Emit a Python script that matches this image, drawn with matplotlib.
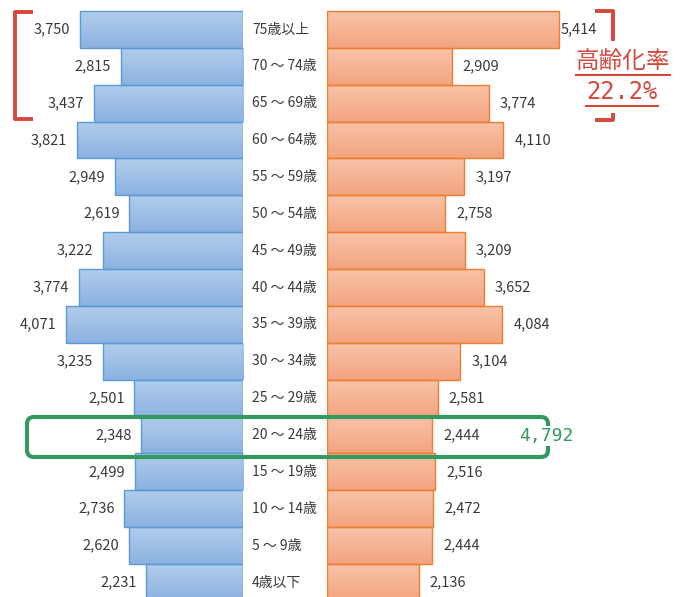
import numpy as np
import matplotlib
matplotlib.use("Agg")
import matplotlib.pyplot as plt
from matplotlib.colors import LinearSegmentedColormap
from matplotlib.patches import FancyBboxPatch
from matplotlib.transforms import blended_transform_factory

plt.rcParams["font.family"] = ["Noto Sans CJK JP", "DejaVu Sans"]

# --- data ---
age_groups = ["75歳以上", "70 ～ 74歳", "65 ～ 69歳", "60 ～ 64歳", "55 ～ 59歳",
              "50 ～ 54歳", "45 ～ 49歳", "40 ～ 44歳", "35 ～ 39歳", "30 ～ 34歳",
              "25 ～ 29歳", "20 ～ 24歳", "15 ～ 19歳", "10 ～ 14歳", "5 ～ 9歳",
              "4歳以下"]
male = [3750, 2815, 3437, 3821, 2949, 2619, 3222, 3774, 4071, 3235,
        2501, 2348, 2499, 2736, 2620, 2231]
female = [5414, 2909, 3774, 4110, 3197, 2758, 3209, 3652, 4084, 3104,
          2581, 2444, 2516, 2472, 2444, 2136]
aging_rate = "22.2%"
highlight = "20 ～ 24歳"

W, H = 687, 597
TEXT = "#3a3a3a"
RED = "#d4483c"
GREEN = "#33995f"

fig = plt.figure(figsize=(W / 100, H / 100), dpi=100)
axL = fig.add_axes([0, 0, 243 / W, 1])
axR = fig.add_axes([327 / W, 0, 360 / W, 1])
ylim = (15.394, -0.798)


def gradient_bars(ax, bars, c_top, c_bot):
    cmap = LinearSegmentedColormap.from_list("g", [c_top, c_bot])
    grad = np.linspace(0, 1, 64).reshape(-1, 1)
    for r in bars:
        x0, y0 = r.get_xy()
        im = ax.imshow(grad, cmap=cmap, aspect="auto", origin="upper",
                       extent=[x0, x0 + r.get_width(), y0 + r.get_height(), y0],
                       zorder=1, interpolation="bilinear")
        im.set_clip_path(r)


ys = np.arange(len(age_groups))
barsL = axL.barh(ys, male, height=1, facecolor="none", edgecolor="#5b9bd5",
                 linewidth=1.0, zorder=2)
barsR = axR.barh(ys, female, height=1, facecolor="none", edgecolor="#ed7d31",
                 linewidth=1.0, zorder=2)
gradient_bars(axL, barsL, "#b2cdeb", "#8cb2e1")
gradient_bars(axR, barsR, "#f8c3a9", "#f3a47f")

axL.set_xlim(243 / 0.0434, 0)
axR.set_xlim(0, 360 / 0.0429)
for ax in (axL, axR):
    ax.set_ylim(*ylim)
    ax.axis("off")

# value labels
for i, v in enumerate(male):
    axL.annotate(f"{v:,}", (v, i), xytext=(-7, 0), textcoords="offset points",
                 ha="right", va="center", fontsize=10.5, color=TEXT)
for i, v in enumerate(female):
    dx = 1 if i == 0 else 8
    axR.annotate(f"{v:,}", (v, i), xytext=(dx, 0), textcoords="offset points",
                 ha="left", va="center", fontsize=10.5, color=TEXT,
                 annotation_clip=False)

# age labels in the centre column
tr = blended_transform_factory(fig.transFigure, axL.transData)
for i, lab in enumerate(age_groups):
    axL.text(252 / W, i, lab, transform=tr, ha="left", va="center",
             fontsize=10, color=TEXT, clip_on=False)

# overlay in pixel coordinates for the annotations
axO = fig.add_axes([0, 0, 1, 1])
axO.set_xlim(0, W)
axO.set_ylim(H, 0)
axO.axis("off")

# red brackets around the 65+ rows
kw = dict(color=RED, lw=2.8, solid_joinstyle="round", solid_capstyle="butt")
axO.plot([33, 15, 15, 33], [12, 12, 119, 119], **kw)
axO.plot([595, 613, 613], [11, 11, 41], **kw)
axO.plot([613, 613, 595], [113, 120, 120], **kw)

t1 = axO.text(623, 61, "高齢化率", ha="center", va="center", fontsize=17,
              color=RED)
t2 = axO.text(622, 92, aging_rate, ha="center", va="center", fontsize=17,
              color=RED, family="DejaVu Sans Mono")

# green box around the highlighted row
hi = age_groups.index(highlight)
box = FancyBboxPatch((27, 417), 521, 40, boxstyle="round,pad=0,rounding_size=7",
                     fill=False, edgecolor=GREEN, lw=3.0, zorder=3)
axO.add_patch(box)
axO.text(546, 436, f"{male[hi] + female[hi]:,}", ha="center", va="center",
         fontsize=13, color=GREEN, family="DejaVu Sans Mono", zorder=4,
         bbox=dict(fc="white", ec="none", pad=1))

# underline the red note
fig.canvas.draw()
inv = axO.transData.inverted()
for t, yoff in ((t1, 2), (t2, 2)):
    bb = t.get_window_extent()
    (x0, y0), (x1, y1) = inv.transform([[bb.x0, bb.y0], [bb.x1, bb.y1]])
    axO.plot([x0, x1], [y0 + yoff, y0 + yoff], color=RED, lw=1.5)

fig.savefig("out.png", dpi=100, facecolor="white")
